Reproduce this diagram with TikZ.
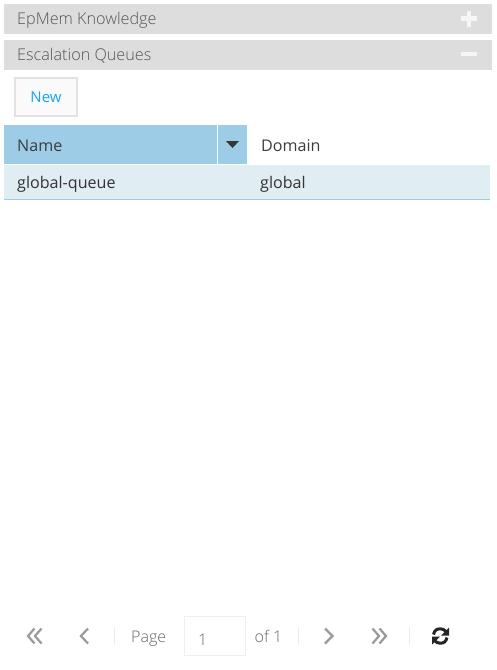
\documentclass[tikz,border=0pt]{standalone}
\usepackage{fontspec}
\setmainfont{Open Sans}
\newfontfamily\lightf{Open Sans Light}
\definecolor{barbg}{HTML}{DDDDDD}
\definecolor{bartx}{HTML}{555555}
\definecolor{hdr}{HTML}{9CCCE6}
\definecolor{rowbg}{HTML}{E0EDF2}
\definecolor{newtx}{HTML}{14A5F5}
\definecolor{dk}{HTML}{3C3C3C}
\definecolor{pg}{HTML}{666666}
\definecolor{chev}{HTML}{9A9A9A}
\definecolor{sepc}{HTML}{EBEBEB}
\tikzset{
 x=1pt,y=-1pt,
 lbl/.style={anchor=base west,inner sep=0pt,font=\fontsize{16.1}{18}\selectfont},
 lightlbl/.style={anchor=base west,inner sep=0pt,font=\lightf\fontsize{16}{18}\selectfont},
 barlbl/.style={anchor=base west,inner sep=0pt,font=\lightf\fontsize{16.2}{18}\selectfont},
 barbox/.style={fill=barbg,draw=none},
 sepline/.style={draw=sepc,line width=1pt},
 chevline/.style={draw=chev,line width=2.2pt,line join=miter},
 pmline/.style={draw=white,line width=4.6pt,opacity=.75}
}
\begin{document}
\begin{tikzpicture}
\useasboundingbox (0,0) rectangle (496,670);
\fill[white] (0,0) rectangle (496,670);
% accordion bars
\fill[barbox] (4,4) rectangle (492,34);
\fill[barbox] (4,40) rectangle (492,70);
\node[barlbl,text=bartx] (ep) at (17,24.5) {EpMem Knowledge};
\node[barlbl,text=bartx] (esc) at (17,60.5) {Escalation Queues};
\draw[pmline] (461,18.5) -- (477,18.5) (469,10.5) -- (469,26.5);
\draw[pmline] (461,54) -- (477,54);
% new button
\node[draw=barbg!85!white,line width=2pt,fill=white!98!black,minimum width=62pt,minimum height=38pt,inner sep=0pt,text=newtx,font=\fontsize{15}{18}\selectfont] (new) at (46,97) {\raisebox{-0.8pt}{New}};
% table
\fill[hdr] (4,125) rectangle (247,164);
\draw[white,line width=1pt] (217.5,125) -- (217.5,164);
\fill[dk!90!black] (226,141) -- (239,141) -- (232.5,148) -- cycle;
\node[lbl,text=dk] (name) at (17,151) {Name};
\node[lbl,text=dk] (dom) at (261,151) {Domain};
\fill[rowbg] (4,165) rectangle (490,199);
\fill[hdr] (4,199) rectangle (490,200);
\node[lbl,text=black!80] (gq) at (17,188) {global-queue};
\node[lbl,text=black!80] (gl) at (260,188) {global};
% pager
\draw[chevline] (34.5,628.5) -- (28,636) -- (34.5,643.5) (41.5,628.5) -- (35,636) -- (41.5,643.5);
\draw[chevline] (88,628.5) -- (81,636) -- (88,643.5);
\draw[sepline] (114.5,627) -- (114.5,644);
\node[lightlbl,text=pg] (page) at (131,642.5) {Page};
\draw[draw=sepc!80!white,line width=1pt,fill=white] (184.5,616.5) rectangle (245,655.5);
\node[lightlbl,text=pg] (one) at (198,645) {1};
\node[lightlbl,text=pg] (of) at (254.5,642.5) {of 1};
\draw[sepline] (298.5,627) -- (298.5,644);
\draw[chevline] (325,628.5) -- (332.5,636) -- (325,643.5);
\draw[chevline] (372.5,628.5) -- (379,636) -- (372.5,643.5) (379.5,628.5) -- (386,636) -- (379.5,643.5);
\draw[sepline] (409.5,627) -- (409.5,644);
% refresh icon
\draw[black!85,line width=3pt] (433.5,634.5) .. controls (434.5,630) and (437,628.8) .. (440.5,628.8) .. controls (442.5,628.8) and (444.5,629.8) .. (446,631.5);
\fill[black!85] (449,627.5) -- (449,635.5) -- (441,635.5) -- cycle;
\draw[black!85,line width=3pt] (447,637.5) .. controls (446,642) and (443.5,643.2) .. (440,643.2) .. controls (438,643.2) and (436,642.2) .. (434.5,640.5);
\fill[black!85] (432,644.5) -- (432,636.5) -- (440,636.5) -- cycle;
\end{tikzpicture}
\end{document}
